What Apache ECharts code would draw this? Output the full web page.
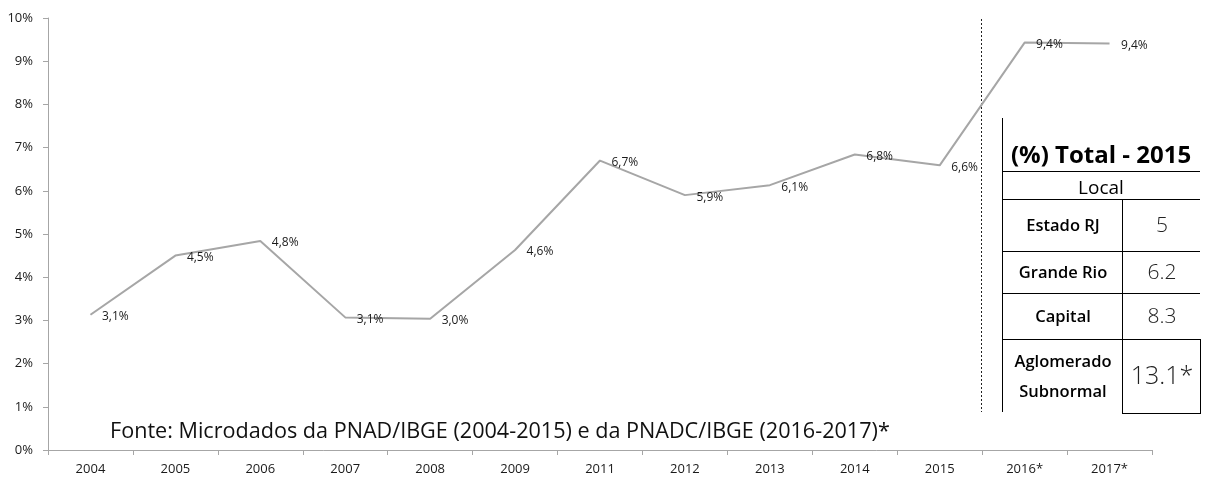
<!DOCTYPE html>
<html>
<head>
<meta charset="utf-8">
<script src="https://cdn.jsdelivr.net/npm/echarts@6/dist/echarts.min.js"></script>
<style>
  html, body { margin: 0; padding: 0; background: #fff; }
  #chart { width: 1210px; height: 481px; }
</style>
</head>
<body>
<div id="chart"></div>
<script>
// Taxa anual (%) por ano de referência
const years = ['2004', '2005', '2006', '2007', '2008', '2009', '2011', '2012', '2013', '2014', '2015', '2016*', '2017*'];
const rates = [3.13, 4.50, 4.84, 3.07, 3.04, 4.63, 6.70, 5.90, 6.13, 6.84, 6.59, 9.43, 9.41];

// Quadro lateral: total de 2015 por local
const tableTitle = '(%) Total - 2015';
const tableHeader = 'Local';
const tableLocals = [['Estado RJ'], ['Grande Rio'], ['Capital'], ['Aglomerado', 'Subnormal']];
const tableValues = ['5', '6.2', '8.3', '13.1*'];

const sourceNote = 'Fonte: Microdados da PNAD/IBGE (2004-2015) e da PNADC/IBGE (2016-2017)*';

const FONT = '"Open Sans", Lato, sans-serif';

const chart = echarts.init(document.getElementById('chart'), null, { renderer: 'canvas' });

chart.setOption({
  backgroundColor: '#ffffff',
  animation: false,
  textStyle: { fontFamily: FONT },
  grid: { left: 48, right: 58, top: 18, bottom: 31, containLabel: false },
  xAxis: {
    type: 'category',
    data: years,
    boundaryGap: true,
    axisLine: { lineStyle: { color: '#a6a6a6', width: 1 } },
    axisTick: { show: true, length: 5, lineStyle: { color: '#a6a6a6' } },
    axisLabel: { color: '#1a1a1a', fontSize: 13, margin: 13, fontFamily: FONT },
    splitLine: { show: false }
  },
  yAxis: {
    type: 'value',
    min: 0,
    max: 10,
    interval: 1,
    axisLine: { show: true, lineStyle: { color: '#a6a6a6', width: 1 } },
    axisTick: { show: true, length: 5, inside: false, lineStyle: { color: '#a6a6a6' } },
    axisLabel: { color: '#1a1a1a', fontSize: 13, margin: 15, formatter: '{value}%', fontFamily: FONT },
    splitLine: { show: false }
  },
  series: [{
    type: 'line',
    data: rates,
    symbol: 'circle',
    symbolSize: 1,
    showSymbol: true,
    itemStyle: { color: 'rgba(0,0,0,0)' },
    lineStyle: { color: '#a6a6a6', width: 2 },
    label: {
      show: true,
      position: 'right',
      distance: 11,
      offset: [0, 2],
      fontSize: 12,
      color: '#1a1a1a',
      fontFamily: FONT,
      formatter: p => p.value.toFixed(1).replace('.', ',') + '%'
    },
    emphasis: { disabled: true }
  }]
});

// Linha tracejada separando PNAD (até 2015) de PNADC (2016 em diante)
const x2015 = chart.convertToPixel({ xAxisIndex: 0 }, '2015');
const x2016 = chart.convertToPixel({ xAxisIndex: 0 }, '2016*');
const xSplit = Math.round((x2015 + x2016) / 2) - 0.5;

// Quadro com os totais de 2015
const tx0 = 1002, tx1 = 1200, tMid = 1122;
const rowLines = [171, 199, 251, 293, 339];
const bodyRows = [[199, 251], [251, 293], [293, 339], [339, 413]];
const valueSizes = [21, 21, 21, 25];
const lineStyle = { stroke: '#000', lineWidth: 1 };

const graphics = [];
graphics.push({
  type: 'text', x: 110, y: 432,
  style: { text: sourceNote, align: 'left', verticalAlign: 'middle',
           font: '21.6px ' + FONT, fill: '#111' }
});
graphics.push({
  type: 'line',
  shape: { x1: xSplit, y1: 19, x2: xSplit, y2: 412 },
  style: { stroke: '#222', lineWidth: 1, lineDash: [2, 2] }
});
// borda esquerda
graphics.push({ type: 'line', shape: { x1: tx0 + 0.5, y1: 118, x2: tx0 + 0.5, y2: 412 }, style: lineStyle });
rowLines.forEach(y => {
  graphics.push({ type: 'line', shape: { x1: tx0, y1: y + 0.5, x2: tx1, y2: y + 0.5 }, style: lineStyle });
});
// divisória entre colunas
graphics.push({ type: 'line', shape: { x1: tMid + 0.5, y1: 199, x2: tMid + 0.5, y2: 413 }, style: lineStyle });
// caixa da última célula
graphics.push({ type: 'line', shape: { x1: tMid, y1: 413.5, x2: tx1 + 1, y2: 413.5 }, style: lineStyle });
graphics.push({ type: 'line', shape: { x1: tx1 + 0.5, y1: 339, x2: tx1 + 0.5, y2: 414 }, style: lineStyle });

graphics.push({
  type: 'text', x: 1101, y: 156,
  style: { text: tableTitle, align: 'center', verticalAlign: 'middle',
           font: 'bold 24px ' + FONT, fill: '#000' }
});
graphics.push({
  type: 'text', x: 1101, y: 189,
  style: { text: tableHeader, align: 'center', verticalAlign: 'middle',
           font: '19px ' + FONT, fill: '#000' }
});
bodyRows.forEach((r, i) => {
  const cy = (r[0] + r[1]) / 2 + 1;
  graphics.push({
    type: 'text', x: (tx0 + tMid) / 2 + 1, y: cy,
    style: { text: tableLocals[i].join('\n'), align: 'center', verticalAlign: 'middle',
             font: '600 16.5px ' + FONT, lineHeight: 30, fill: '#000' }
  });
  graphics.push({
    type: 'text', x: (tMid + tx1) / 2 + 1, y: cy,
    style: { text: tableValues[i], align: 'center', verticalAlign: 'middle',
             font: '300 ' + valueSizes[i] + 'px ' + FONT, fill: '#222' }
  });
});

chart.setOption({ graphic: graphics });
</script>
</body>
</html>
